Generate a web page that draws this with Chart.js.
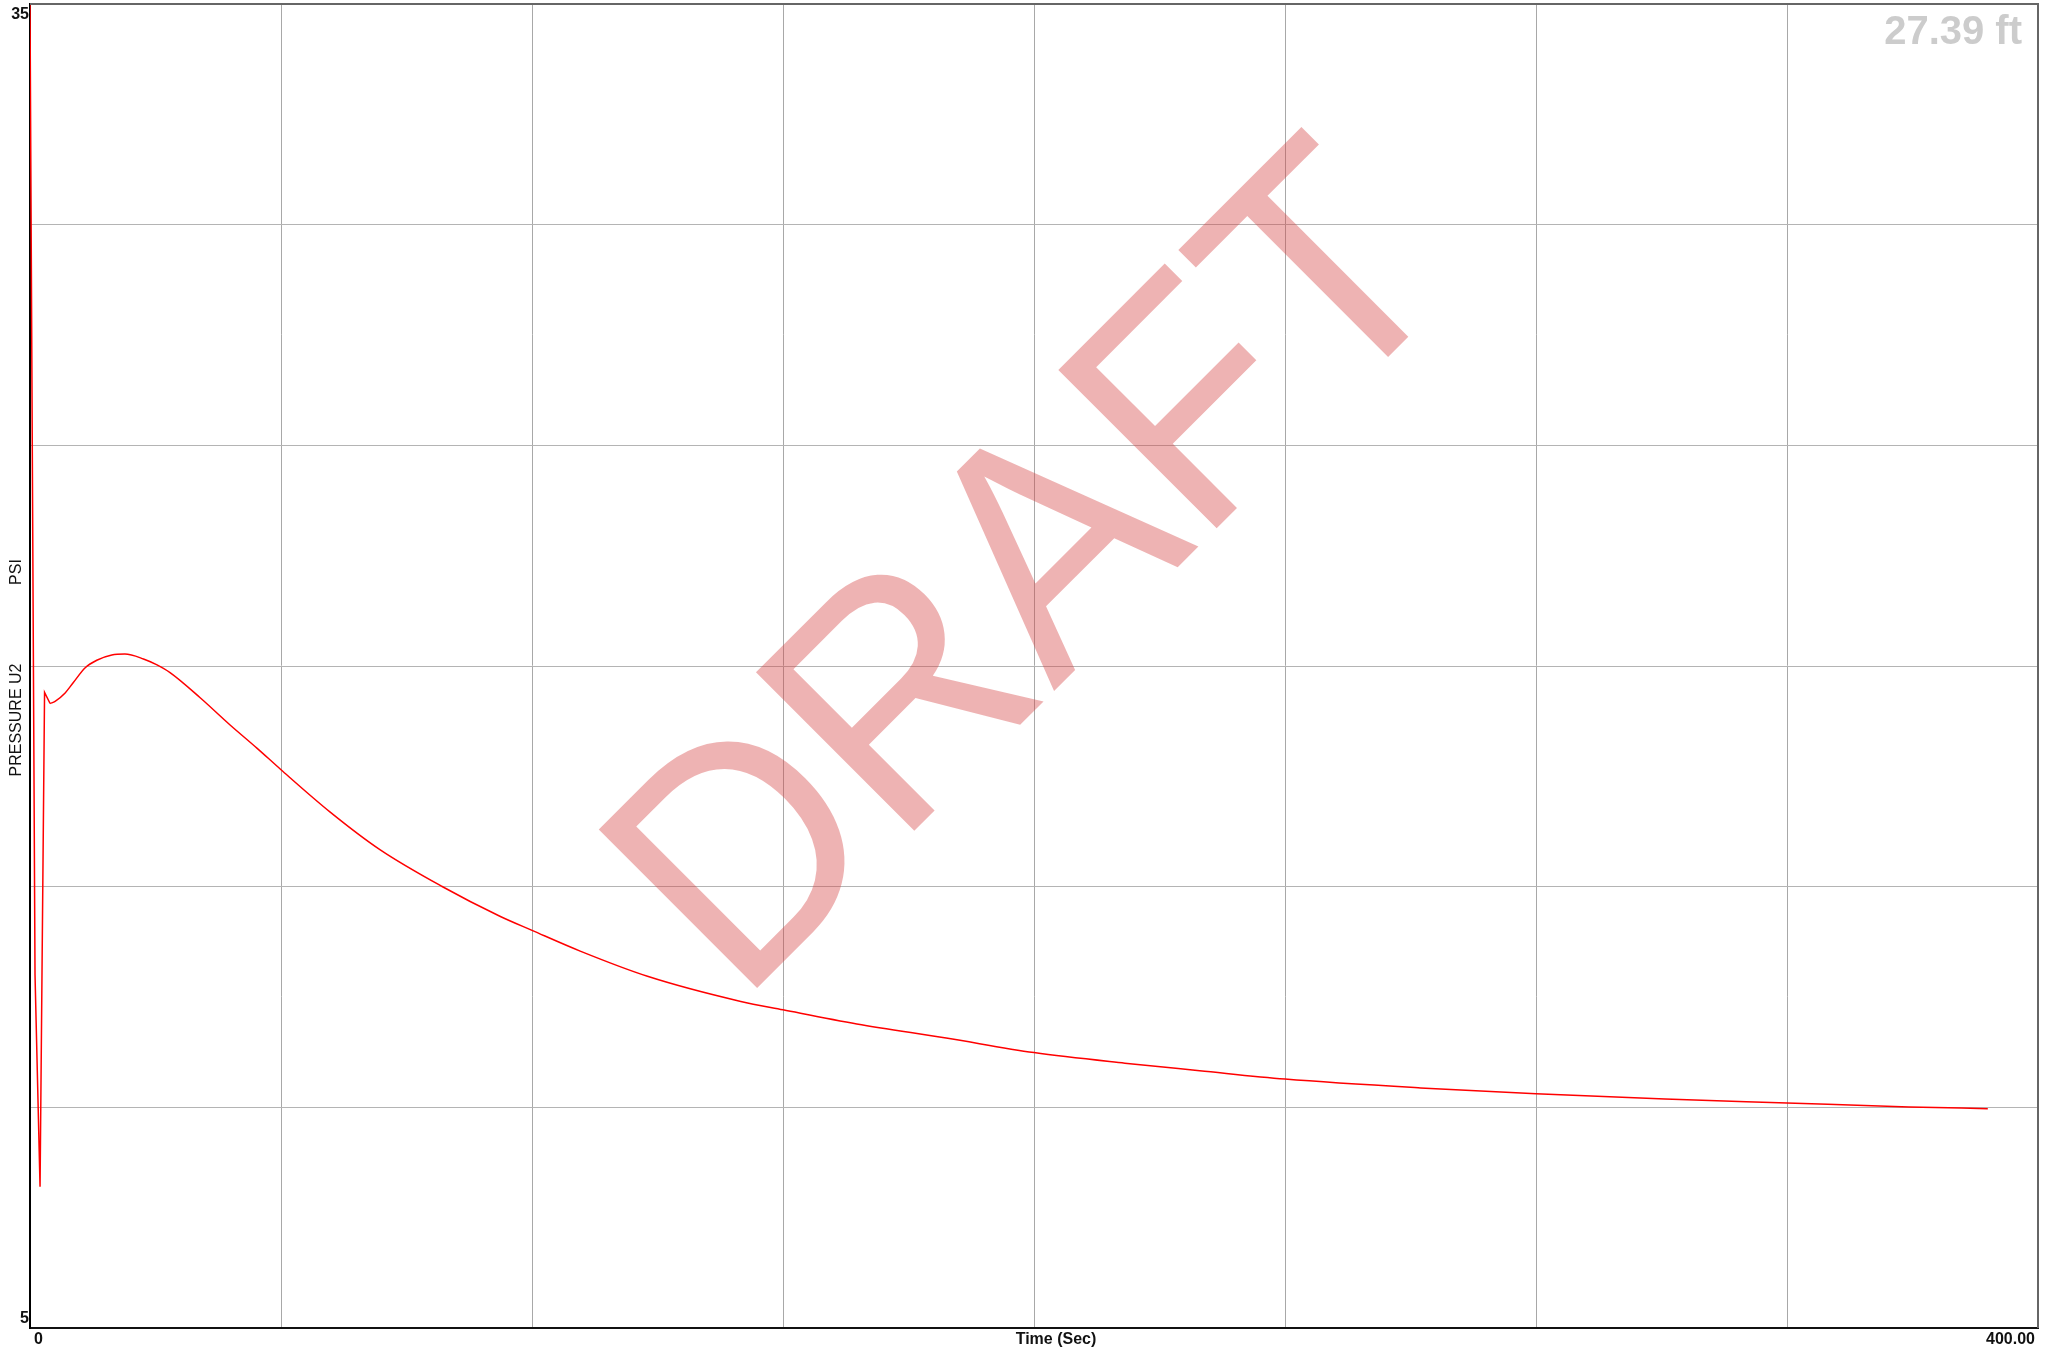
<!DOCTYPE html>
<html>
<head>
<meta charset="utf-8">
<title>PRESSURE U2</title>
<script src="https://cdn.jsdelivr.net/npm/chart.js@4.4.1/dist/chart.umd.min.js"></script>
<style>
  html, body { margin: 0; padding: 0; background: #ffffff; }
  #wrap { width: 2045px; height: 1350px; }
  canvas { display: block; }
</style>
</head>
<body>
<div id="wrap"><canvas id="c" width="2045" height="1350"></canvas></div>
<script>
// Pressure trace: time in seconds, pressure in PSI
const timeSec = [
  0, 1, 2, 2.9, 4, 5, 7, 8.6, 11, 13.3, 16.3, 18.9, 22.6, 25.2, 27.9,
  33.9, 39.8, 45.2, 50, 59.8, 69.7, 82, 93.6, 100, 109.6, 123, 141.6,
  150, 164.7, 182.5, 200, 218.1, 233, 250, 277, 300, 325.7, 350, 374.3, 390
];
const pressurePsi = [
  35, 13.0, 8.2, 19.4, 19.15, 19.2, 19.39, 19.62, 19.96, 20.13, 20.25, 20.27, 20.16, 20.03, 19.85,
  19.28, 18.67, 18.14, 17.65, 16.69, 15.84, 15.01, 14.33, 14.01, 13.54, 12.97, 12.40,
  12.21, 11.89, 11.57, 11.24, 11.0, 10.83, 10.64, 10.44, 10.31, 10.19, 10.10, 10.01, 9.97
];
// the opening transient (up to this index) is drawn with straight segments
const transientEnd = 4;

// Axis ranges and the few tick labels that are printed
const xRange = [0, 400];
const yRange = [5, 35];
const xTickValues = [0, 400];
const xTickLabels = ['0', '400.00'];
const yTickValues = [35, 5];
const yTickLabels = ['35', '5'];

const xTitle = 'Time (Sec)';
const yTitleMain = 'PRESSURE U2';
const yTitleUnit = 'PSI';
const depthLabel = '27.39 ft';
const watermark = 'DRAFT';

const allPoints = timeSec.map((t, i) => ({ x: t, y: pressurePsi[i] }));
const transientPoints = allPoints.slice(0, transientEnd + 1);
const decayPoints = allPoints.slice(transientEnd);

const labelFont = 'bold 16px "Liberation Sans", Arial, sans-serif';

const decorations = {
  id: 'decorations',
  afterDatasetsDraw(chart) {
    const { ctx } = chart;
    // diagonal watermark
    ctx.save();
    ctx.translate(1102, 643);
    ctx.rotate(-Math.PI / 4);
    ctx.scale(0.993, 1.05);
    ctx.font = '310px "Liberation Sans", Arial, sans-serif';
    ctx.fillStyle = 'rgba(213, 64, 64, 0.4)';
    ctx.textAlign = 'center';
    ctx.textBaseline = 'alphabetic';
    ctx.fillText(watermark, 0, 0);
    ctx.restore();
  },
  afterDraw(chart) {
    const { ctx, chartArea: a, scales: { x, y } } = chart;
    ctx.save();

    // top and right frame edges
    ctx.strokeStyle = '#666666';
    ctx.lineWidth = 2;
    ctx.beginPath();
    ctx.moveTo(a.left, a.top);
    ctx.lineTo(a.right, a.top);
    ctx.lineTo(a.right, a.bottom);
    ctx.stroke();

    ctx.fillStyle = '#111111';
    ctx.font = labelFont;

    // y tick labels: top one hangs below its line, bottom one sits above
    ctx.textAlign = 'right';
    yTickValues.forEach((v, i) => {
      const py = y.getPixelForValue(v);
      if (i === 0) {
        ctx.textBaseline = 'top';
        ctx.fillText(yTickLabels[i], a.left - 1, py + 3);
      } else {
        ctx.textBaseline = 'bottom';
        ctx.fillText(yTickLabels[i], a.left - 1, py - 1);
      }
    });

    // x tick labels: first starts at the axis, last ends at the frame
    ctx.textBaseline = 'middle';
    xTickValues.forEach((v, i) => {
      const px = x.getPixelForValue(v);
      if (i === 0) {
        ctx.textAlign = 'left';
        ctx.fillText(xTickLabels[i], px + 4, a.bottom + 12);
      } else {
        ctx.textAlign = 'right';
        ctx.fillText(xTickLabels[i], px - 3, a.bottom + 12);
      }
    });

    // x axis title
    ctx.textAlign = 'center';
    ctx.fillText(xTitle, (a.left + a.right) / 2 + 22, a.bottom + 12);

    // y axis title, rotated
    ctx.save();
    ctx.translate(17, 0);
    ctx.rotate(-Math.PI / 2);
    ctx.font = '16px "Liberation Sans", Arial, sans-serif';
    ctx.fillStyle = '#111111';
    ctx.textAlign = 'center';
    ctx.textBaseline = 'middle';
    ctx.fillText(yTitleMain, -720, 0);
    ctx.fillText(yTitleUnit, -572, 0);
    ctx.restore();

    // depth readout in the top right corner
    ctx.font = 'bold 40px "Liberation Sans", Arial, sans-serif';
    ctx.fillStyle = '#cccccc';
    ctx.textAlign = 'right';
    ctx.textBaseline = 'alphabetic';
    ctx.fillText(depthLabel, 2022, 44);

    ctx.restore();
  }
};

const lineStyle = {
  borderColor: '#ff0000',
  borderWidth: 1.5,
  pointRadius: 0,
  fill: false
};

new Chart(document.getElementById('c'), {
  type: 'line',
  data: {
    datasets: [
      Object.assign({ label: yTitleMain, data: transientPoints, tension: 0 }, lineStyle),
      Object.assign({ label: yTitleMain, data: decayPoints, cubicInterpolationMode: 'monotone' }, lineStyle)
    ]
  },
  options: {
    responsive: false,
    animation: false,
    devicePixelRatio: 1,
    layout: { padding: { left: 30, top: 4, right: 7, bottom: 22 } },
    plugins: {
      legend: { display: false },
      tooltip: { enabled: false },
      title: { display: false }
    },
    scales: {
      x: {
        type: 'linear',
        min: xRange[0],
        max: xRange[1],
        ticks: { display: false, stepSize: 50 },
        grid: { color: '#a8a8a8', lineWidth: 1, drawTicks: false },
        border: { color: '#111111', width: 2 }
      },
      y: {
        type: 'linear',
        min: yRange[0],
        max: yRange[1],
        ticks: { display: false, stepSize: 5 },
        grid: { color: '#b4b4b4', lineWidth: 1, drawTicks: false },
        border: { color: '#000000', width: 2 }
      }
    }
  },
  plugins: [decorations]
});
</script>
</body>
</html>
